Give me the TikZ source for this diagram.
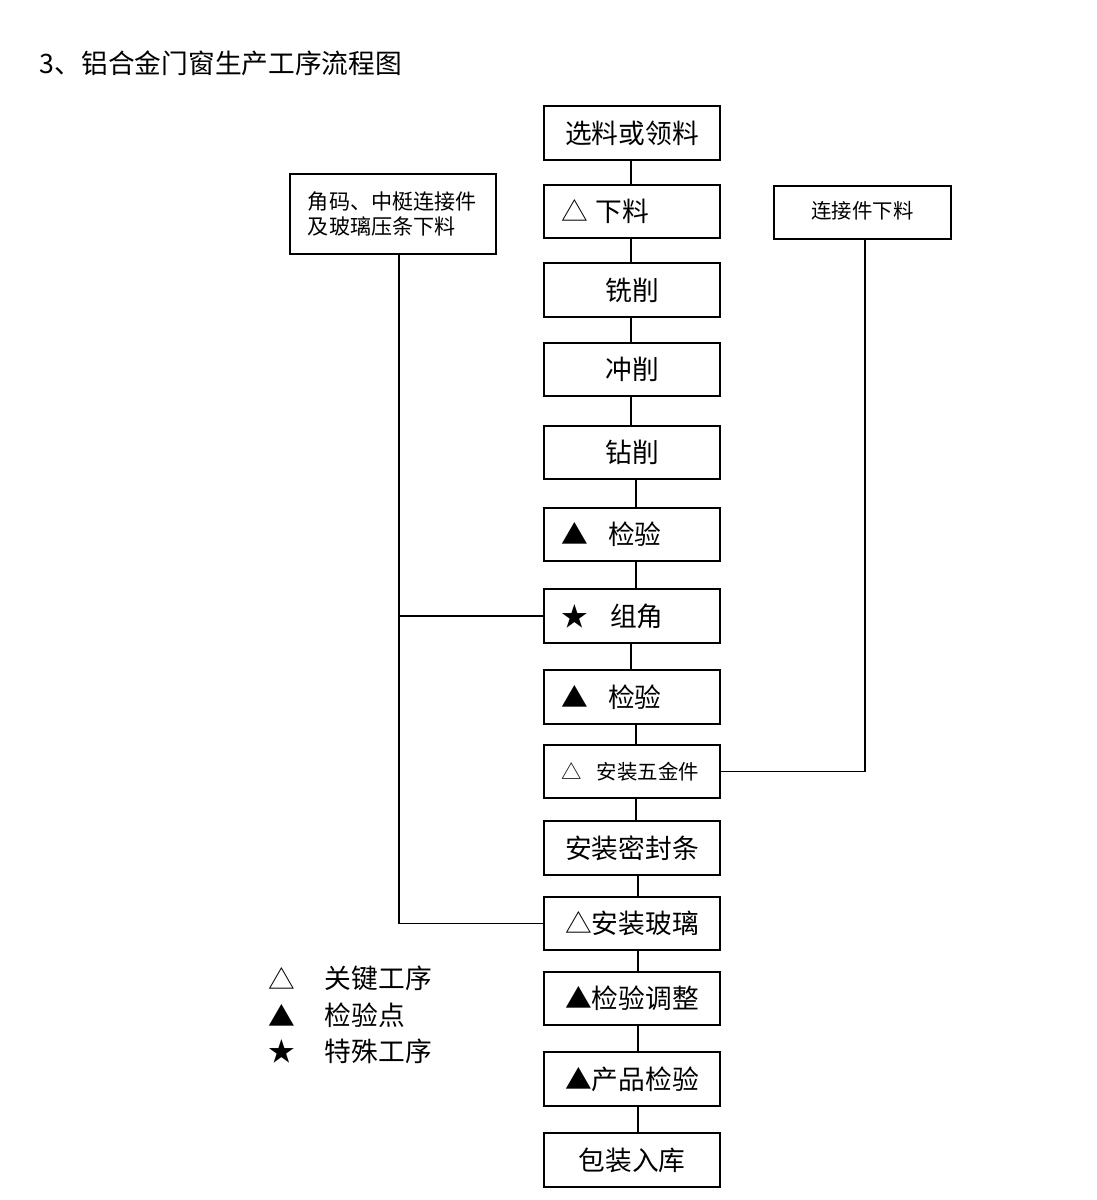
\documentclass[tikz,border=0pt]{standalone}
\usepackage{fontspec}
\setmainfont{Noto Sans CJK SC}
\usepackage{tikz}

\tikzset{
  procbox/.style={draw, line width=1.4pt, minimum width=4.4cm, minimum height=1.33cm,
    inner sep=0pt, font=\fontsize{19}{22}\selectfont},
  markbox/.style={procbox, text width=3.5cm, align=left},
  sidebox/.style={draw, line width=1.4pt, inner sep=0pt, font=\fontsize{14.5}{19}\selectfont},
  link/.style={line width=1.4pt},
}

\begin{document}
\begin{tikzpicture}[x=0.025cm, y=-0.025cm]
    \useasboundingbox (0,0) rectangle (1096,1200);

    % title
    \node[anchor=west, font=\fontsize{19}{22}\selectfont] (title) at (35,63) {3、铝合金门窗生产工序流程图};

    % main column
    \node[procbox] (xuanliao) at (632,133) {选料或领料};
    \node[markbox] (xialiao) at (632,211.5) {\makebox[0.85cm][l]{△}下料};
    \node[procbox] (xixiao) at (632,290) {铣削};
    \node[procbox] (chongxiao) at (632,369.5) {冲削};
    \node[procbox] (zuanxiao) at (632,452.5) {钻削};
    \node[markbox] (jianyan1) at (632,534.5) {\makebox[1.15cm][l]{▲}检验};
    \node[markbox] (zujiao) at (632,616) {\makebox[1.2cm][l]{★}组角};
    \node[markbox] (jianyan2) at (632,697) {\makebox[1.15cm][l]{▲}检验};
    \node[markbox, font=\fontsize{14.5}{17}\selectfont] (wujin) at (632,771.5) {\makebox[0.875cm][l]{△}安装五金件};
    \node[procbox] (mifeng) at (632,848) {安装密封条};
    \node[procbox] (boli) at (632,923.5) {△安装玻璃};
    \node[procbox] (tiaozheng) at (632,998.5) {▲检验调整};
    \node[procbox] (chanpin) at (632,1079) {▲产品检验};
    \node[procbox] (baozhuang) at (632,1160) {包装入库};

    % side boxes
    \node[sidebox, minimum width=5.15cm, minimum height=2cm, text width=4.25cm, align=left,
        font=\fontsize{15}{18}\selectfont] (jiaoma) at (393,214)
        {\raisebox{4pt}{\parbox{4.25cm}{角码、中梃连接件\\及玻璃压条下料}}};
    \node[sidebox, minimum width=4.43cm, minimum height=1.33cm] (lianjie) at (862.5,212.5) {\raisebox{3pt}{连接件下料}};

    % connectors
    \foreach \a/\b/\d in {xuanliao/xialiao/-1, xialiao/xixiao/-1, xixiao/chongxiao/-1,
        chongxiao/zuanxiao/-1, zuanxiao/jianyan1/4, jianyan1/zujiao/4, zujiao/jianyan2/-1,
        jianyan2/wujin/4, wujin/mifeng/4, mifeng/boli/6, boli/tiaozheng/6,
        tiaozheng/chanpin/6, chanpin/baozhuang/6}
      \draw[link] ([xshift=\d*0.025cm]\a.south) -- ([xshift=\d*0.025cm]\b.north);

    \coordinate (ltop) at ([xshift=0.15cm]jiaoma.south);
    \draw[link] (ltop) |- (boli.west);
    \draw[link] (zujiao.west) -- (zujiao.west -| ltop);
    \draw[link] ([xshift=0.06cm]lianjie.south) |- (wujin.east);

    % legend
    \node[anchor=west, font=\fontsize{19}{22}\selectfont] (keysym) at (264,978) {△};
    \node[anchor=west, font=\fontsize{19}{22}\selectfont] (keytxt) at (320,978) {关键工序};
    \node[anchor=west, font=\fontsize{19}{22}\selectfont] (checksym) at (264,1015) {▲};
    \node[anchor=west, font=\fontsize{19}{22}\selectfont] (checktxt) at (320,1015) {检验点};
    \node[anchor=west, font=\fontsize{19}{22}\selectfont] (specsym) at (264,1051) {★};
    \node[anchor=west, font=\fontsize{19}{22}\selectfont] (spectxt) at (320,1051) {特殊工序};

\end{tikzpicture}
\end{document}
